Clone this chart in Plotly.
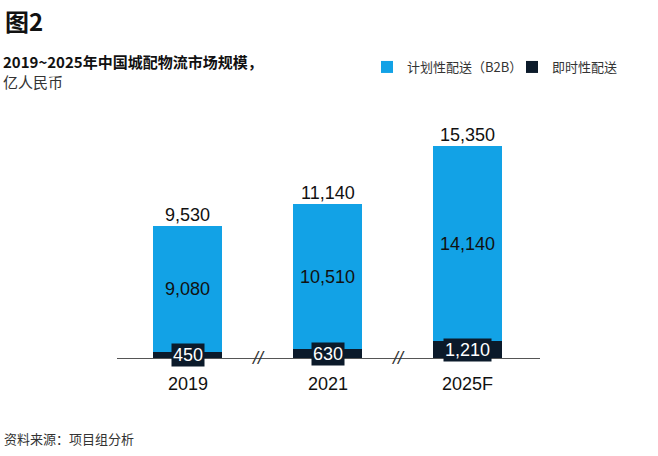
import plotly.graph_objects as go

categories = ["2019", "2021", "2025F"]
b2b_values = [9080, 10510, 14140]
instant_values = [450, 630, 1210]
totals = [9530, 11140, 15350]
series_names = ["计划性配送（B2B）", "即时性配送"]

BLUE = "#12A2E6"
DARK = "#0B1A2A"
LATIN = "Liberation Sans, Arial, sans-serif"
CJK = "Noto Sans CJK SC, sans-serif"

x = list(range(len(categories)))

fig = go.Figure()
fig.add_trace(go.Bar(x=x, y=instant_values, name=series_names[1], marker_color=DARK,
                     width=0.493, marker_line_width=0, legendrank=2))
fig.add_trace(go.Bar(x=x, y=b2b_values, name=series_names[0], marker_color=BLUE,
                     width=0.493, marker_line_width=0, legendrank=1))

ann = []
for i, (b, d, t) in enumerate(zip(b2b_values, instant_values, totals)):
    ann.append(dict(x=i, y=t, xref="x", yref="y", text=f"{t:,}", showarrow=False,
                    yanchor="bottom", yshift=-1, font=dict(family=LATIN, size=18, color="#111")))
    ann.append(dict(x=i, y=d + b / 2, xref="x", yref="y", text=f"{b:,}", showarrow=False,
                    yanchor="middle", font=dict(family=LATIN, size=18, color="#111")))
    ann.append(dict(x=i, y=d / 2, xref="x", yref="y", text=f"{d:,}", showarrow=False,
                    yanchor="middle", bgcolor=DARK, borderpad=1,
                    font=dict(family=LATIN, size=18, color="white")))
    ann.append(dict(x=i, y=0, xref="x", yref="y", text=categories[i], showarrow=False,
                    yanchor="top", yshift=-14, font=dict(family=LATIN, size=18, color="#111")))
for bx in [0.5, 1.5]:
    ann.append(dict(x=bx, y=0, xref="x", yref="y", text="<i>//</i>", showarrow=False,
                    yanchor="middle", font=dict(family=LATIN, size=18, color="#333")))

W, H = 658, 456
paper_texts = [
    ("<b>图2</b>", 3, 20, 24, "#111"),
    ("<b>2019~2025年中国城配物流市场规模，</b><br><span style='color:#333'>亿人民币</span>",
     1, 71, 15, "#111"),
    ("资料来源：项目组分析", 2, 438, 13, "#333"),
]
for txt, px, py, fs, col in paper_texts:
    ann.append(dict(x=px / W, y=1 - py / H, xref="paper", yref="paper", text=txt,
                    showarrow=False, xanchor="left", yanchor="middle", align="left",
                    font=dict(family=CJK, size=fs, color=col)))

fig.update_layout(
    width=W, height=H,
    margin=dict(l=0, r=0, t=0, b=0, autoexpand=False),
    paper_bgcolor="white", plot_bgcolor="white",
    barmode="stack",
    showlegend=True,
    legend=dict(orientation="h", x=367 / W, y=1 - 52 / H, xanchor="left", yanchor="top",
                font=dict(family=CJK, size=13, color="#333"), itemwidth=30,
                entrywidth=100, entrywidthmode="pixels",
                traceorder="normal", bgcolor="rgba(0,0,0,0)"),
    annotations=ann,
    xaxis=dict(domain=[117 / W, 540 / W], range=[-0.504, 2.518], showgrid=False,
               zeroline=False, showticklabels=False, showline=False, fixedrange=True),
    yaxis=dict(domain=[1 - 358 / H, 1 - 116 / H], range=[0, 17500], showgrid=False,
               zeroline=True, zerolinecolor="#555", zerolinewidth=1,
               showticklabels=False, showline=False, fixedrange=True),
)

fig.write_html("out.html", config={"displayModeBar": False})
with open("out.html", encoding="utf-8") as f:
    html = f.read()
html = html.replace("<head>", "<head><style>html,body{margin:0;padding:0;overflow:hidden;}</style>", 1)
with open("out.html", "w", encoding="utf-8") as f:
    f.write(html)
